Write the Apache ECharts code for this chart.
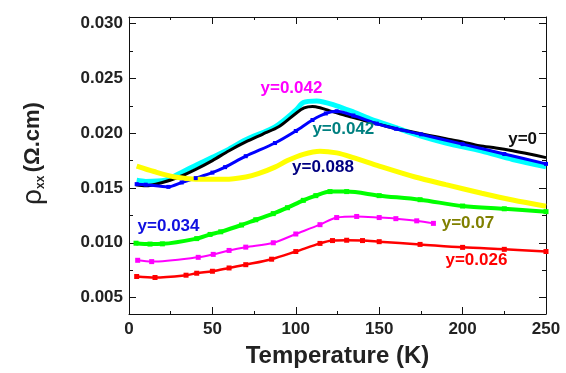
<!DOCTYPE html>
<html>
<head>
<meta charset="utf-8">
<script src="https://cdn.jsdelivr.net/npm/echarts@6/dist/echarts.min.js"></script>
<style>
  html, body { margin: 0; padding: 0; background: #fff; }
  #main { width: 566px; height: 373px; }
</style>
</head>
<body>
<div id="main"></div>
<script>
// curves: [T (K), rho_xx (ohm.cm)]
var cyanData = [[4.6,0.0157],[10,0.0156],[21.6,0.0157],[30,0.0163],[37.6,0.0169],[50,0.0178],[57.6,0.01836],[70,0.0194],[87.5,0.02058],[100,0.0221],[104.5,0.0228],[112.5,0.02294],[124.5,0.0225],[135,0.0219],[144.5,0.02131],[160,0.0205],[174.5,0.01975],[190,0.0191],[211.5,0.01836],[230,0.0176],[250,0.01694]];
var blackData = [[4,0.0153],[10,0.0152],[20,0.0155],[30,0.0160],[40,0.0167],[50,0.0175],[60,0.0184],[70,0.0192],[80,0.0199],[90,0.0206],[100,0.0218],[105,0.0223],[110,0.02244],[115,0.0223],[120,0.02206],[130,0.0216],[140,0.0212],[150,0.0208],[160,0.0204],[170,0.0201],[180,0.0198],[190,0.0195],[200,0.0192],[210,0.01885],[220,0.01865],[230,0.0184],[240,0.0181],[250,0.01777]];
var blueData = [[4.6,0.01535],[10,0.0153],[23.6,0.0151],[31.6,0.0155],[40,0.0159],[50,0.0164],[57.6,0.0169],[70,0.0179],[87.5,0.0191],[100,0.0202],[110,0.0212],[118,0.0218],[124.5,0.0220],[134.5,0.02161],[148.5,0.02087],[160,0.0204],[175,0.0199],[200,0.0190],[225,0.0181],[250,0.0172]];
var yellowData = [[4.6,0.0170],[15,0.0165],[27.6,0.0160],[40,0.0158],[57.6,0.01579],[70,0.0160],[77.5,0.0163],[87.5,0.0169],[95,0.0175],[104.5,0.01807],[114.5,0.01836],[124.5,0.0182],[134.5,0.01777],[150,0.0170],[171.5,0.0160],[190,0.0153],[211.5,0.01452],[230,0.0139],[250,0.01333]];
var greenData = [[4.2,0.00996],[12.6,0.00988],[20,0.0099],[40.6,0.01038],[48.6,0.01076],[55,0.0110],[67.5,0.01162],[76,0.0121],[86.5,0.01266],[95,0.0132],[104.5,0.01387],[112,0.0143],[120.5,0.01467],[130.5,0.01467],[150,0.0143],[174.5,0.01393],[200,0.01335],[225,0.0131],[250,0.01284]];
var magentaData = [[5.2,0.0084],[13.6,0.00828],[41.5,0.00867],[50.5,0.00894],[60,0.0093],[70,0.0096],[86.5,0.0100],[100,0.0108],[114.5,0.01165],[124.5,0.0123],[136.5,0.0124],[150,0.0123],[160,0.0122],[172.5,0.0120],[182.5,0.01177]];
var redData = [[4.6,0.00692],[15.6,0.00683],[34.2,0.00704],[40.6,0.00722],[50,0.0074],[60,0.0077],[70,0.0080],[85.5,0.0085],[100,0.0092],[114.5,0.00994],[122,0.0102],[130.5,0.01023],[140,0.0102],[150,0.0101],[174.5,0.00985],[200,0.00958],[225,0.0094],[250,0.0092]];

// in-plot annotations
var noteText = ['y=0.042', 'y=0.042', 'y=0', 'y=0.088', 'y=0.034', 'y=0.07', 'y=0.026'];
var notePos = [[97.4,0.02412],[128.5,0.02031],[236,0.01942],[116.3,0.01688],[23.7,0.01151],[203.2,0.01177],[208.3,0.0084]];
var noteColor = ['#ff00ff', '#008080', '#111111', '#000080', '#1010e0', '#808000', '#ff0000'];

var yMajor = [0.005, 0.010, 0.015, 0.020, 0.025, 0.030];
var yMinor = [0.0075, 0.0125, 0.0175, 0.0225, 0.0275];

var chart = echarts.init(document.getElementById('main'));

var lineSeries = function (name, data, color, width, size) {
  return {
    name: name,
    type: 'line',
    data: data,
    smooth: 0.3,
    symbol: 'rect',
    symbolSize: size,
    showSymbol: size > 0,
    itemStyle: { color: color },
    lineStyle: { color: color, width: width },
    animation: false,
    z: 3
  };
};

var notes = [];
for (var i = 0; i < noteText.length; i++) {
  notes.push({
    value: notePos[i],
    label: { show: true, formatter: noteText[i], color: noteColor[i] }
  });
}

var labelFont = { fontFamily: 'Liberation Sans', fontWeight: 'bold', fontSize: 17, color: '#222' };

var option = {
  backgroundColor: '#fff',
  grid: { left: 129, right: 20, top: 17, bottom: 51 },
  xAxis: [
    {
      type: 'value', min: 0, max: 250, interval: 50, position: 'bottom',
      name: 'Temperature (K)', nameLocation: 'middle', nameGap: 30,
      nameTextStyle: { fontFamily: 'Liberation Sans', fontWeight: 'bold', fontSize: 24, color: '#222' },
      axisLine: { lineStyle: { color: '#111', width: 1 } },
      axisTick: { inside: true, length: 7, lineStyle: { color: '#111' } },
      minorTick: { show: true, splitNumber: 2, length: 3, lineStyle: { color: '#111' } },
      axisLabel: Object.assign({ margin: 7 }, labelFont),
      splitLine: { show: false }
    },
    {
      type: 'value', min: 0, max: 250, interval: 50, position: 'top',
      axisLine: { lineStyle: { color: '#111', width: 1 } },
      axisTick: { inside: true, length: 7, lineStyle: { color: '#111' } },
      minorTick: { show: true, splitNumber: 2, length: 3, lineStyle: { color: '#111' } },
      axisLabel: { show: false },
      splitLine: { show: false }
    }
  ],
  yAxis: [
    {
      type: 'value', min: 0.0035, max: 0.0306, position: 'left',
      name: '{rho|ρ}{sub|xx} {u|(Ω.cm)}', nameLocation: 'middle', nameGap: 82,
      nameTextStyle: {
        padding: [0, 0, 0, 24],
        rich: {
          rho: { fontFamily: 'Liberation Sans', fontSize: 28, color: '#222' },
          sub: { fontFamily: 'Liberation Sans', fontWeight: 'bold', fontSize: 12, color: '#222', verticalAlign: 'bottom', padding: [14, 0, 0, 0] },
          u: { fontFamily: 'Liberation Sans', fontWeight: 'bold', fontSize: 22, color: '#222' }
        }
      },
      axisLine: { show: true, lineStyle: { color: '#111', width: 1 } },
      axisTick: { show: true, inside: true, length: 7, customValues: yMajor, lineStyle: { color: '#111' } },
      axisLabel: Object.assign({ margin: 6, customValues: yMajor, formatter: function (v) { return v.toFixed(3); } }, labelFont),
      splitLine: { show: false }
    },
    {
      type: 'value', min: 0.0035, max: 0.0306, position: 'left',
      axisLine: { show: false },
      axisTick: { show: true, inside: true, length: 4, customValues: yMinor, lineStyle: { color: '#111' } },
      axisLabel: { show: false },
      splitLine: { show: false }
    },
    {
      type: 'value', min: 0.0035, max: 0.0306, position: 'right',
      axisLine: { show: true, lineStyle: { color: '#111', width: 1 } },
      axisTick: { show: true, inside: true, length: 7, customValues: yMajor, lineStyle: { color: '#111' } },
      axisLabel: { show: false },
      splitLine: { show: false }
    },
    {
      type: 'value', min: 0.0035, max: 0.0306, position: 'right',
      axisLine: { show: false },
      axisTick: { show: true, inside: true, length: 4, customValues: yMinor, lineStyle: { color: '#111' } },
      axisLabel: { show: false },
      splitLine: { show: false }
    }
  ],
  series: [
    lineSeries('cyan', cyanData, '#00ffff', 5, 0),
    lineSeries('black', blackData, '#000000', 3, 0),
    lineSeries('blue', blueData, '#0000ff', 3, 4),
    lineSeries('yellow', yellowData, '#ffff00', 5, 0),
    lineSeries('green', greenData, '#00ff00', 4, 5),
    lineSeries('magenta', magentaData, '#ff00ff', 2, 5),
    lineSeries('red', redData, '#ff0000', 2.5, 5),
    {
      name: 'notes',
      type: 'scatter',
      data: notes,
      symbolSize: 1,
      itemStyle: { color: 'rgba(255,255,255,0)' },
      label: { position: 'inside', fontFamily: 'Liberation Sans', fontWeight: 'bold', fontSize: 17, textBorderWidth: 0, opacity: 1 },
      emphasis: { disabled: true },
      animation: false,
      z: 5
    }
  ]
};

chart.setOption(option);
</script>
</body>
</html>
